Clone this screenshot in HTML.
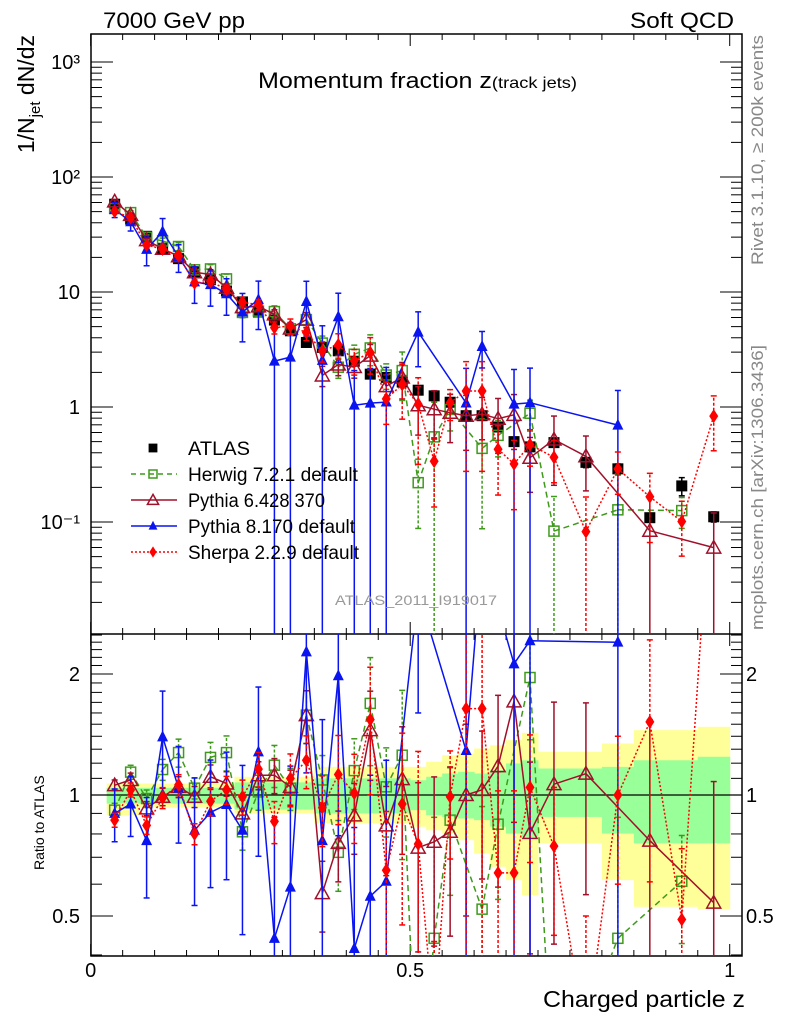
<!DOCTYPE html>
<html><head><meta charset="utf-8"><style>
html,body{margin:0;padding:0;background:#fff;width:786px;height:1024px;overflow:hidden;}
svg{display:block;font-family:"Liberation Sans",Arial,sans-serif;}
</style></head><body>
<svg id="chart" width="786" height="1024" viewBox="0 0 786 1024" xmlns="http://www.w3.org/2000/svg">
<defs>
<clipPath id="clipMain"><rect x="91" y="34" width="651" height="600"/></clipPath>
<clipPath id="clipRatio"><rect x="91" y="634" width="651" height="322"/></clipPath>
</defs>
<g id="bands" clip-path="url(#clipRatio)"></g>
<g id="axes"></g>
<g id="mainMarks" clip-path="url(#clipMain)"></g>
<g id="ratioMarks" clip-path="url(#clipRatio)"></g>
<text x="103" y="28" font-size="22" textLength="142" lengthAdjust="spacingAndGlyphs">7000 GeV pp</text>
<text x="630" y="28" font-size="22" textLength="104" lengthAdjust="spacingAndGlyphs">Soft QCD</text>
<text x="258" y="88" font-size="22" textLength="319" lengthAdjust="spacingAndGlyphs">Momentum fraction z<tspan font-size="16">(track jets)</tspan></text>
<text transform="translate(34,35) rotate(-90)" font-size="23" text-anchor="end">1/N<tspan font-size="15" dy="6">jet</tspan><tspan dy="-6"> dN/dz</tspan></text>
<text transform="translate(44,870) rotate(-90)" font-size="14">Ratio to ATLAS</text>
<text x="543" y="1007" font-size="23" textLength="202" lengthAdjust="spacingAndGlyphs">Charged particle z</text>
<text transform="translate(763,265) rotate(-90)" font-size="17" fill="#888" textLength="230" lengthAdjust="spacingAndGlyphs">Rivet 3.1.10, ≥ 200k events</text>
<text transform="translate(763,630) rotate(-90)" font-size="17" fill="#888" textLength="285" lengthAdjust="spacingAndGlyphs">mcplots.cern.ch [arXiv:1306.3436]</text>
<text x="335" y="605" font-size="14" fill="#999" textLength="162" lengthAdjust="spacingAndGlyphs">ATLAS_2011_I919017</text>
<g id="legend"></g>
</svg>
<script>
// ---- data ----
const zCenters = [0.0375,0.0625,0.0875,0.1125,0.1375,0.1625,0.1875,0.2125,0.2375,0.2625,0.2875,0.3125,0.3375,0.3625,0.3875,0.4125,0.4375,0.4625,0.4875,0.5125,0.5375,0.5625,0.5875,0.6125,0.6375,0.6625,0.6875,0.725,0.775,0.825,0.875,0.925,0.975];
const binWidths = [0.025,0.025,0.025,0.025,0.025,0.025,0.025,0.025,0.025,0.025,0.025,0.025,0.025,0.025,0.025,0.025,0.025,0.025,0.025,0.025,0.025,0.025,0.025,0.025,0.025,0.025,0.025,0.05,0.05,0.05,0.05,0.05,0.05];
const atlasValues = [58,43,30.5,24,19.5,15,12.8,10.2,8.2,6.7,5.7,4.6,3.64,3.3,3.08,2.5,1.93,1.81,1.65,1.40,1.25,1.10,0.84,0.84,0.67,0.50,0.45,0.49,0.33,0.29,0.109,0.206,0.111];
const atlasErr = [0.02,0.02,0.02,0.02,0.02,0.02,0.02,0.02,0.02,0.02,0.02,0.03,0.03,0.03,0.03,0.04,0.04,0.04,0.05,0.05,0.05,0.06,0.06,0.06,0.07,0.07,0.08,0.08,0.1,0.1,0.08,0.18,0.1];
const herwigRatio = [0.917,1.14,0.98,1.157,1.275,1.04,1.24,1.275,0.81,1.018,1.186,1.04,1.58,1.09,0.72,1.15,1.69,1.048,1.256,0.157,0.44,0.866,null,0.52,0.846,null,1.96,0.17,null,0.44,null,0.61,null];
const herwigErr = [0.04,0.04,0.05,0.06,0.08,0.06,0.09,0.1,0.1,0.1,0.12,0.12,0.15,0.15,0.2,0.2,0.3,0.25,0.45,0.6,1,0.35,0,0.8,0.35,0,0.3,1,0,1,0,0.3,0];
const pythia6Ratio = [1.058,1.09,0.926,0.99,1.048,0.99,1.11,1.068,0.90,1.12,1.12,1.048,1.58,0.57,0.76,0.89,1.45,0.84,1.095,0.74,0.765,0.81,1.0,1.03,1.18,1.71,0.805,1.064,1.13,null,0.77,null,0.54];
const pythia6Err = [0.03,0.04,0.04,0.05,0.06,0.06,0.07,0.07,0.08,0.08,0.1,0.1,0.15,0.2,0.2,0.2,0.25,0.25,0.35,0.45,0.45,0.45,0.5,0.4,0.5,0.5,0.5,0.6,0.5,0,1,0,1];
const pythia8Ratio = [0.90,0.95,0.77,1.395,1.04,0.817,0.905,0.947,0.817,1.28,0.44,0.59,2.27,0.77,1.98,0.415,0.56,0.61,null,3.2,null,null,1.29,4.0,null,2.12,2.42,null,null,2.4,null,null,null];
const pythia8Err = [0.15,0.17,0.28,0.3,0.27,0.35,0.35,0.35,0.45,0.45,1,1,0.5,1,0.6,1,1,1,0,0.5,0,0,1,0.35,0,1,1,0,0,1,0,0,0];
const sherpaRatio = [0.866,1.03,0.84,0.984,1.06,0.80,0.965,1.03,0.99,1.16,0.86,1.10,1.22,0.93,1.125,1.01,1.54,0.65,0.95,0.755,0.27,0.99,1.64,1.64,0.64,0.64,1.045,0.746,0.25,1.0,1.52,0.49,7.5];
const sherpaErr = [0.04,0.04,0.05,0.06,0.06,0.06,0.08,0.08,0.1,0.1,0.12,0.15,0.15,0.2,0.25,0.25,0.35,0.4,0.5,0.7,0.6,0.3,0.8,0.8,0.6,0.6,0.35,0.4,1,0.4,0.6,0.5,0.5];
const yellowHi = [1.068,1.068,1.068,1.068,1.068,1.068,1.068,1.068,1.11,1.11,1.11,1.11,1.11,1.175,1.175,1.175,1.175,1.175,1.175,1.175,1.21,1.256,1.268,1.305,1.33,1.369,1.428,1.281,1.281,1.343,1.45,1.45,1.478];
const yellowLo = [0.89,0.89,0.93,0.93,0.93,0.93,0.93,0.93,0.9,0.9,0.9,0.9,0.9,0.85,0.85,0.85,0.85,0.85,0.85,0.834,0.817,0.802,0.772,0.715,0.663,0.614,0.563,0.758,0.758,0.614,0.527,0.527,0.519];
const greenHi = [1.042,1.042,1.042,1.042,1.042,1.042,1.042,1.042,1.075,1.075,1.075,1.075,1.075,1.1,1.1,1.1,1.1,1.1,1.1,1.088,1.11,1.131,1.142,1.131,1.153,1.198,1.22,1.164,1.164,1.175,1.22,1.22,1.245];
const greenLo = [0.952,0.952,0.952,0.952,0.952,0.952,0.952,0.952,0.92,0.92,0.92,0.92,0.92,0.9,0.9,0.9,0.9,0.9,0.9,0.917,0.891,0.882,0.874,0.866,0.834,0.802,0.787,0.882,0.882,0.802,0.758,0.758,0.758];
const mainTickValues = [0.1,1,10,100,1000];
const mainTickLabels = ["10\u207B\u00B9","1","10","10\u00B2","10\u00B3"];
const ratioTickValues = [0.5,1,2];
const ratioTickLabels = ["0.5","1","2"];
const xTickValues = [0,0.5,1];
const xTickLabels = ["0","0.5","1"];

// ---- scales ----
const X = z => 90.7 + 639*z;
const YM = v => 407 - 115*Math.log10(v);
const YR = r => 795 - 121*Math.log2(r);
const NS = "http://www.w3.org/2000/svg";
function mk(tag, attrs, parent){ const e=document.createElementNS(NS,tag); for(const k in attrs) e.setAttribute(k,attrs[k]); parent.appendChild(e); return e; }

const axes=document.getElementById('axes');
const bands=document.getElementById('bands');
const mainG=document.getElementById('mainMarks');
const ratioG=document.getElementById('ratioMarks');
const legend=document.getElementById('legend');

for(let i=0;i<zCenters.length;i++){
  const x0=X(zCenters[i]-binWidths[i]/2), x1=X(zCenters[i]+binWidths[i]/2);
  const y=mk('rect',{x:x0,y:YR(yellowHi[i]),width:x1-x0+0.5,height:YR(yellowLo[i])-YR(yellowHi[i]),fill:'#ffff99'},bands);
  
  
}
for(let i=0;i<zCenters.length;i++){
  const x0=X(zCenters[i]-binWidths[i]/2), x1=X(zCenters[i]+binWidths[i]/2);
  const g=mk('rect',{x:x0,y:YR(greenHi[i]),width:x1-x0+0.5,height:YR(greenLo[i])-YR(greenHi[i]),fill:'#99ff99'},bands);
  
  
}
const one=mk('line',{x1:91,x2:742,y1:YR(1),y2:YR(1),stroke:'#000','stroke-width':1.3},bands);



const fr=mk('rect',{x:91,y:34,width:651,height:922,fill:'none',stroke:'#000','stroke-width':1.5},axes);


const sep=mk('line',{x1:91,x2:742,y1:634,y2:634,stroke:'#000','stroke-width':1.5},axes);



for(let k=0;k<=20;k++){
  const z=k*0.05, x=X(z), L=(k%10===0)?12:6;
  [[34,1],[634,-1],[634,1],[956,-1]].forEach(([yy,d])=>{ mk('line',{x1:x,x2:x,y1:yy,y2:yy+d*L,stroke:'#000','stroke-width':1},axes); });
}
xTickValues.forEach((v,i)=>{
  const t=mk('text',{x:X(v),y:977,'font-size':20,'text-anchor':'middle'},axes);
  t.textContent=xTickLabels[i];
  
  
});
for(let d=-2;d<=3;d++){
  for(let m=1;m<=9;m++){
    const v=m*Math.pow(10,d), y=YM(v);
    if(y<34||y>634) continue;
    const L=m===1?22:11;
    mk('line',{x1:91,x2:91+L,y1:y,y2:y,stroke:'#000','stroke-width':1},axes);
    mk('line',{x1:742,x2:742-L,y1:y,y2:y,stroke:'#000','stroke-width':1},axes);
  }
}
mainTickValues.forEach((v,i)=>{
  const t=mk('text',{x:80,y:YM(v)+7,'font-size':20,'text-anchor':'end'},axes);
  t.textContent=mainTickLabels[i];
  
  
});
for(let k=4;k<=25;k++){
  const r=k/10, y=YR(r);
  if(y<634||y>956) continue;
  const L=(k===5||k===10||k===20)?22:11;
  mk('line',{x1:91,x2:91+L,y1:y,y2:y,stroke:'#000','stroke-width':1},axes);
  mk('line',{x1:742,x2:742-L,y1:y,y2:y,stroke:'#000','stroke-width':1},axes);
}
ratioTickValues.forEach((v,i)=>{
  const t=mk('text',{x:80,y:YR(v)+7,'font-size':20,'text-anchor':'end'},axes);
  t.textContent=ratioTickLabels[i];
  
  
  const t2=mk('text',{x:746,y:YR(v)+7,'font-size':20},axes);
  t2.textContent=ratioTickLabels[i];
  
  
});

function marker(kind,cx,cy,color,parent,s){
  s=s||1; let e;
  if(kind==='square') e=mk('rect',{x:cx-5.5*s,y:cy-5.5*s,width:11*s,height:11*s,fill:'#000'},parent);
  else if(kind==='osquare') e=mk('rect',{x:cx-5*s,y:cy-5*s,width:10*s,height:10*s,fill:'none',stroke:color,'stroke-width':1.5},parent);
  else if(kind==='otri') e=mk('polygon',{points:`${cx},${cy-7*s} ${cx+7*s},${cy+5.5*s} ${cx-7*s},${cy+5.5*s}`,fill:'none',stroke:color,'stroke-width':1.5},parent);
  else if(kind==='tri') e=mk('polygon',{points:`${cx},${cy-6.5*s} ${cx+5.5*s},${cy+4.5*s} ${cx-5.5*s},${cy+4.5*s}`,fill:color},parent);
  else e=mk('polygon',{points:`${cx},${cy-7*s} ${cx+4.5*s},${cy} ${cx},${cy+7*s} ${cx-4.5*s},${cy}`,fill:color},parent);
  return e;
}
function errbar(x,yLo,yHi,color,dash,parent){
  const l=mk('line',{x1:x,x2:x,y1:yLo,y2:yHi,stroke:color,'stroke-width':1.5},parent);
  if(dash) l.setAttribute('stroke-dasharray',dash);
  mk('line',{x1:x-3,x2:x+3,y1:yLo,y2:yLo,stroke:color,'stroke-width':1.5},parent);
  mk('line',{x1:x-3,x2:x+3,y1:yHi,y2:yHi,stroke:color,'stroke-width':1.5},parent);
}
// clip a segment to [ymin,ymax]; returns null or [x1,y1,x2,y2]
function clipSeg(x1,y1,x2,y2,ymin,ymax){
  if((y1<ymin&&y2<ymin)||(y1>ymax&&y2>ymax)) return null;
  const at=(yt)=> x1+(x2-x1)*(yt-y1)/(y2-y1);
  if(y1<ymin){x1=at(ymin);y1=ymin;} else if(y1>ymax){x1=at(ymax);y1=ymax;}
  if(y2<ymin){x2=x1+(x2-x1)*0+ (x2-x1===0?0:0); }
  return [x1,y1,x2,y2];
}
function segPath(pts,ymin,ymax){
  let d='';
  for(let i=0;i<pts.length-1;i++){
    let [ax,ay]=pts[i],[bx,by]=pts[i+1];
    if((ay<ymin&&by<ymin)||(ay>ymax&&by>ymax)) continue;
    const ix=(yt)=> ax+(bx-ax)*(yt-ay)/(by-ay);
    let sx=ax,sy=ay,ex=bx,ey=by;
    if(ay<ymin){sx=ix(ymin);sy=ymin;} else if(ay>ymax){sx=ix(ymax);sy=ymax;}
    if(by<ymin){ex=ix(ymin);ey=ymin;} else if(by>ymax){ex=ix(ymax);ey=ymax;}
    d+=`M${sx.toFixed(1)},${sy.toFixed(1)}L${ex.toFixed(1)},${ey.toFixed(1)}`;
  }
  return d;
}

atlasValues.forEach((v,i)=>{
  const x=X(zCenters[i]);
  errbar(x,YM(v*(1-atlasErr[i])),YM(v*(1+atlasErr[i])),'#000',null,mainG);
  const m=marker('square',x,YM(v),'#000',mainG);
  
  
});

const seriesList=[
 {name:'herwig',ratio:herwigRatio,err:herwigErr,color:'#3f9a1c',dash:'6,4',kind:'osquare'},
 {name:'pythia6',ratio:pythia6Ratio,err:pythia6Err,color:'#a0102a',dash:null,kind:'otri'},
 {name:'pythia8',ratio:pythia8Ratio,err:pythia8Err,color:'#0a14f0',dash:null,kind:'tri'},
 {name:'sherpa',ratio:sherpaRatio,err:sherpaErr,color:'#ff0000',dash:'2,2',kind:'diamond'}
];
seriesList.forEach(s=>{
  [['main',mainG],['ratio',ratioG]].forEach(([panel,g])=>{
    const val=i=> panel==='main'? s.ratio[i]*atlasValues[i] : s.ratio[i];
    const Y= panel==='main'? YM : YR;
    const ymin= panel==='main'? 34 : 634;
    const ymax= panel==='main'? 634 : 956;
    const C = y => Math.max(ymin-2, Math.min(ymax+2, y));
    const pts=[];
    s.ratio.forEach((r,i)=>{ if(r!==null) pts.push([X(zCenters[i]),Y(val(i))]); });
    const pl=mk('path',{d:segPath(pts,ymin-2,ymax+2),fill:'none',stroke:s.color,'stroke-width':1.5},g);
    if(s.dash) pl.setAttribute('stroke-dasharray',s.dash);
    
    
    s.ratio.forEach((r,i)=>{
      if(r===null) return;
      const v=val(i), e=s.err[i], x=X(zCenters[i]);
      const yy=Y(v);
      if(e>0){
        const lo = e>=1 ? ymax+2 : C(Y(v*(1-e)));
        const hi = C(Y(v*(1+e)));
        if(!(lo<ymin && hi<ymin) && !(hi>ymax && lo>ymax)) errbar(x,lo,hi,s.color,s.dash?'3,2':null,g);
      }
      if(yy<ymin-8 || yy>ymax+8) return;
      const m=marker(s.kind,x,yy,s.color,g);
      
      
    });
  });
});

const legendNames=['ATLAS','Herwig 7.2.1 default','Pythia 6.428 370','Pythia 8.170 default','Sherpa 2.2.9 default'];
const legendKinds=['square','osquare','otri','tri','diamond'];
const legendColors=['#000','#3f9a1c','#a0102a','#0a14f0','#ff0000'];
const legendDash=[null,'5,4',null,null,'2,2'];
const legendWidths=[62,170,137,167,171];
legendNames.forEach((n,i)=>{
  const y=448+26*i;
  if(i>0){
    const l=mk('line',{x1:131,x2:177,y1:y,y2:y,stroke:legendColors[i],'stroke-width':1.5},legend);
    if(legendDash[i]) l.setAttribute('stroke-dasharray',legendDash[i]);
  }
  const m=marker(legendKinds[i],153,y,legendColors[i],legend,0.8);
  
  
  const t=mk('text',{x:188,y:y+7,'font-size':19,textLength:legendWidths[i],lengthAdjust:'spacingAndGlyphs'},legend);
  t.textContent=n;
  
  
});
</script>
</body></html>
